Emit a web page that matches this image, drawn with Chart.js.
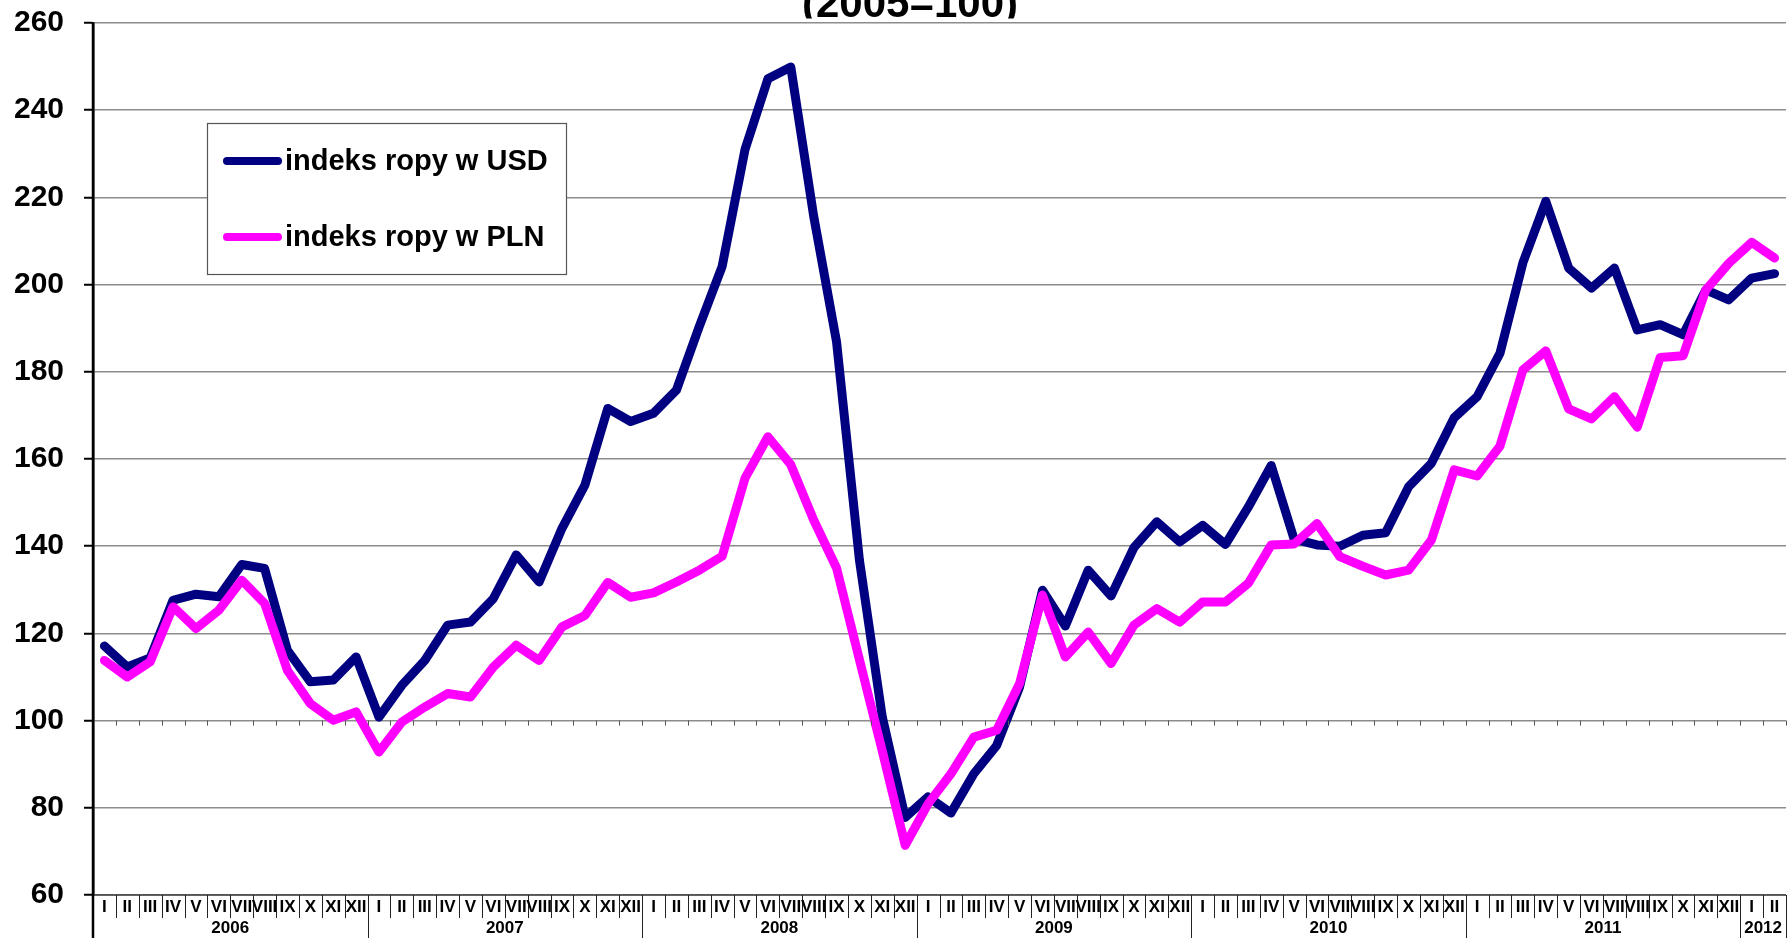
<!DOCTYPE html>
<html>
<head>
<meta charset="utf-8">
<script src="https://cdn.jsdelivr.net/npm/chart.js@4/dist/chart.umd.min.js"></script>
<style>
html,body{margin:0;padding:0;background:#fff;}
canvas{display:block;}
</style>
</head>
<body>
<canvas id="c" width="1787" height="938"></canvas>
<script>
// ---- data ----
const romanMonths = ['I','II','III','IV','V','VI','VII','VIII','IX','X','XI','XII'];
const years = ['2006','2007','2008','2009','2010','2011','2012'];
const monthsPerYear = [12,12,12,12,12,12,2];
const titleText = '(2005=100)';
const yTicks = {min: 60, max: 260, step: 20};

const seriesUSDLabel = 'indeks ropy w USD';
const seriesPLNLabel = 'indeks ropy w PLN';

const usd = [117.1,112.3,114.4,127.6,129.0,128.4,135.8,134.9,116.1,108.9,109.3,114.6,
             100.8,108.1,113.8,121.9,122.6,128.0,138.0,131.8,144.1,154.0,171.6,168.6,
             170.5,175.8,190.4,204.2,231.0,247.2,249.9,215.7,186.9,136.8,100.8,77.8,
             82.5,78.8,87.8,94.3,107.7,129.9,121.7,134.5,128.6,139.7,145.6,141.0,
             144.8,140.4,149.0,158.5,141.6,140.3,140.0,142.5,143.1,153.6,159.0,169.5,
             174.3,184.3,205.0,219.1,203.8,199.2,203.8,189.6,190.8,188.5,198.8,196.5,
             201.5,202.5];
const pln = [113.8,110.0,113.5,126.1,121.1,125.3,132.2,126.9,111.5,103.9,100.1,102.0,
             92.8,99.7,103.1,106.2,105.4,112.3,117.3,113.8,121.5,124.1,131.7,128.3,
             129.3,131.8,134.5,137.7,155.6,165.1,158.7,146.0,135.0,114.0,93.0,71.4,
             80.9,87.8,96.2,97.8,108.5,128.8,114.6,120.3,113.1,121.9,125.7,122.6,
             127.2,127.2,131.5,140.3,140.5,145.2,137.6,135.4,133.4,134.5,141.4,157.5,
             156.1,163.0,180.4,184.8,171.5,169.2,174.3,167.3,183.3,183.7,198.8,204.9,
             209.7,206.1];

// categories built from month names and year spans
const categories = [];
years.forEach((y, yi) => {
  for (let m = 0; m < monthsPerYear[yi]; m++) categories.push(romanMonths[m] + ' ' + y);
});

const FONT = "'Liberation Sans', Arial, Helvetica, sans-serif";
const NAVY = '#000080';
const MAGENTA = '#FF00FF';
const GRID = '#8c8c8c';

const decorPlugin = {
  id: 'decor',
  afterDraw(chart) {
    const ctx = chart.ctx;
    const a = chart.chartArea;
    const xs = chart.scales.x;
    const ys = chart.scales.y;
    const H = chart.height;
    const w = xs.getPixelForValue(1) - xs.getPixelForValue(0);
    const left = a.left;
    ctx.save();

    // bottom line of plot
    ctx.strokeStyle = '#404040';
    ctx.lineWidth = 1.5;
    ctx.beginPath();
    ctx.moveTo(left, a.bottom);
    ctx.lineTo(a.right, a.bottom);
    ctx.stroke();

    // tick marks along 100 line
    const y100 = ys.getPixelForValue(100);
    ctx.strokeStyle = '#555';
    ctx.lineWidth = 1;
    ctx.beginPath();
    for (let k = 1; k <= categories.length; k++) {
      const x = Math.round(left + k * w) + 0.5;
      ctx.moveTo(x, y100);
      ctx.lineTo(x, y100 + 5);
    }
    ctx.stroke();

    // separators in label area
    const yearStarts = [];
    let acc = 0;
    monthsPerYear.forEach(n => { yearStarts.push(acc); acc += n; });
    ctx.strokeStyle = '#222';
    ctx.lineWidth = 1;
    ctx.beginPath();
    for (let k = 1; k <= categories.length; k++) {
      const x = Math.round(left + k * w) + 0.5;
      const isYear = yearStarts.includes(k) || k === categories.length;
      ctx.moveTo(x, a.bottom);
      ctx.lineTo(x, isYear ? H : a.bottom + 23);
    }
    ctx.stroke();

    // y axis extension downwards
    ctx.strokeStyle = '#000';
    ctx.lineWidth = 2.5;
    ctx.beginPath();
    ctx.moveTo(left, a.top);
    ctx.lineTo(left, H);
    ctx.stroke();

    // month labels
    ctx.fillStyle = '#000';
    ctx.textAlign = 'center';
    ctx.textBaseline = 'middle';
    ctx.font = 'bold 17px ' + FONT;
    for (let i = 0; i < categories.length; i++) {
      const x = xs.getPixelForValue(i);
      ctx.fillText(romanMonths[i % 12], x, a.bottom + 12.5);
    }
    // year labels
    ctx.font = 'bold 17px ' + FONT;
    years.forEach((y, yi) => {
      const s = yearStarts[yi];
      const e = s + monthsPerYear[yi];
      const x = left + (s + e) / 2 * w;
      ctx.fillText(y, x, a.bottom + 33.5);
    });

    // title (clipped at top as in reference)
    ctx.save();
    ctx.beginPath();
    ctx.rect(0, 0, chart.width, 18.5);
    ctx.clip();
    ctx.font = 'bold 42px ' + FONT;
    ctx.textAlign = 'center';
    ctx.textBaseline = 'alphabetic';
    ctx.fillText(titleText, 910, 17);
    ctx.restore();

    // legend
    const bx = 207, by = 123, bw = 359, bh = 151;
    ctx.fillStyle = '#fff';
    ctx.fillRect(bx, by, bw, bh);
    ctx.strokeStyle = '#555';
    ctx.lineWidth = 1.2;
    ctx.strokeRect(bx + 0.5, by + 0.5, bw, bh);
    const items = [
      {label: chart.data.datasets[0].label, color: chart.data.datasets[0].borderColor, y: 161},
      {label: chart.data.datasets[1].label, color: chart.data.datasets[1].borderColor, y: 237}
    ];
    items.forEach(it => {
      ctx.strokeStyle = it.color;
      ctx.lineWidth = 8;
      ctx.lineCap = 'round';
      ctx.beginPath();
      ctx.moveTo(227, it.y);
      ctx.lineTo(278, it.y);
      ctx.stroke();
      ctx.fillStyle = '#000';
      ctx.font = 'bold 29px ' + FONT;
      ctx.textAlign = 'left';
      ctx.textBaseline = 'middle';
      ctx.fillText(it.label, 285, it.y + 1);
    });
    ctx.restore();
  }
};

new Chart(document.getElementById('c'), {
  type: 'line',
  data: {
    labels: categories,
    datasets: [
      {label: seriesUSDLabel, data: usd, borderColor: NAVY, backgroundColor: NAVY,
       borderWidth: 9, pointRadius: 0, tension: 0, borderJoinStyle: 'round', borderCapStyle: 'round', order: 1},
      {label: seriesPLNLabel, data: pln, borderColor: MAGENTA, backgroundColor: MAGENTA,
       borderWidth: 9, pointRadius: 0, tension: 0, borderJoinStyle: 'round', borderCapStyle: 'round', order: 0}
    ]
  },
  options: {
    responsive: false,
    devicePixelRatio: 1,
    animation: false,
    layout: {padding: {left: 13, right: 1, top: 23, bottom: 43}},
    plugins: {legend: {display: false}, tooltip: {enabled: false}, title: {display: false}},
    scales: {
      x: {
        type: 'category',
        display: false,
        offset: true
      },
      y: {
        min: yTicks.min, max: yTicks.max,
        afterFit(scale) {
          scale.width = 80;
          scale.paddingTop = 0;
          scale.paddingBottom = 0;
        },
        ticks: {stepSize: yTicks.step, color: '#000', padding: 20,
                font: {family: FONT, size: 30, weight: 'bold'}},
        grid: {color: GRID, lineWidth: 1.5, tickLength: 9, tickColor: '#000', tickWidth: 2},
        border: {color: '#000', width: 2.5}
      }
    }
  },
  plugins: [decorPlugin]
});
</script>
</body>
</html>
